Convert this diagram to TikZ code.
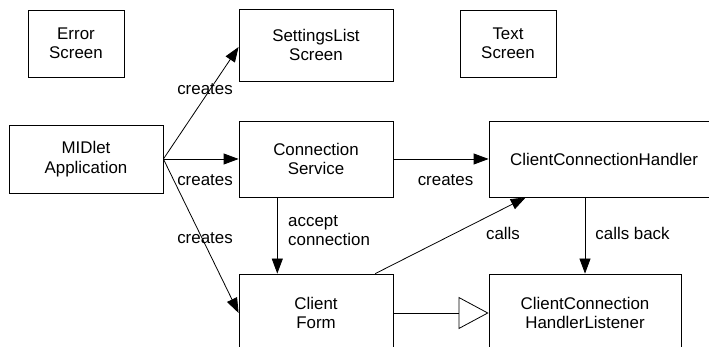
\documentclass[tikz,border=0pt]{standalone}
\usepackage{fontspec}
\setmainfont{Liberation Sans}
\usetikzlibrary{arrows.meta,calc}
\begin{document}
\begin{tikzpicture}[x=1pt,y=-1pt,
  every node/.style={font=\fontsize{16.9}{19.5}\selectfont},
  box/.style={draw,line width=0.8pt,align=center,inner sep=0pt},
  lbl/.style={inner sep=0pt},
  link/.style={line width=0.8pt,-{Triangle[length=15pt,width=11pt]}},
  realize/.style={line width=0.8pt,-{Triangle[open,length=30pt,width=32pt,fill=white]}}]
  \useasboundingbox (0,0) rectangle (709,347);
  \clip (0,0) rectangle (709,347);
  % screens
  \node[box,minimum width=96pt,minimum height=67pt] (err) at (76,43.5) {Error\\Screen};
  \node[box,minimum width=154pt,minimum height=72pt] (set) at (316,45) {SettingsList\\Screen};
  \node[box,minimum width=96pt,minimum height=67pt] (txt) at (508,43.5) {Text\\Screen};
  % application and services
  \node[box,minimum width=154pt,minimum height=68pt] (mid) at (86,159) {MIDlet\\Application};
  \node[box,minimum width=154pt,minimum height=76pt] (con) at (316,159) {Connection\\Service};
  \node[box,minimum width=230pt,minimum height=76pt] (hnd) at (604,159) {ClientConnectionHandler};
  \node[box,minimum width=154pt,minimum height=78pt] (frm) at (316,313) {Client\\Form};
  \node[box,minimum width=192pt,minimum height=78pt] (lst) at (585,313) {ClientConnection\\HandlerListener};
  % connectors
  \draw[link] (mid.east) -- ($(set.west)+(0,2)$);
  \draw[link] (mid.east) -- (con.west);
  \draw[link] (mid.east) -- (frm.west);
  \draw[link] ($(con.south west)!0.25!(con.south east)$) -- ($(frm.north west)!0.25!(frm.north east)$);
  \draw[link] (con.east) -- (hnd.west);
  \draw[link] ($(frm.north west)!0.883!(frm.north east)$) -- ($(hnd.south west)!0.161!(hnd.south east)$);
  \draw[link] (lst.north |- hnd.south) -- (lst.north);
  \draw[realize] (frm.east) -- (lst.west);
  % labels
  \node[lbl] (l1) at (205,89) {creates};
  \node[lbl] (l2) at (205,180) {creates};
  \node[lbl] (l3) at (205,238) {creates};
  \node[lbl,anchor=west,align=left] (l4) at (288,230.5) {accept\\connection};
  \node[lbl] (l5) at (445.5,180) {creates};
  \node[lbl] (l6) at (503,233) {calls};
  \node[lbl] (l7) at (632.5,233) {calls back};
\end{tikzpicture}
\end{document}
